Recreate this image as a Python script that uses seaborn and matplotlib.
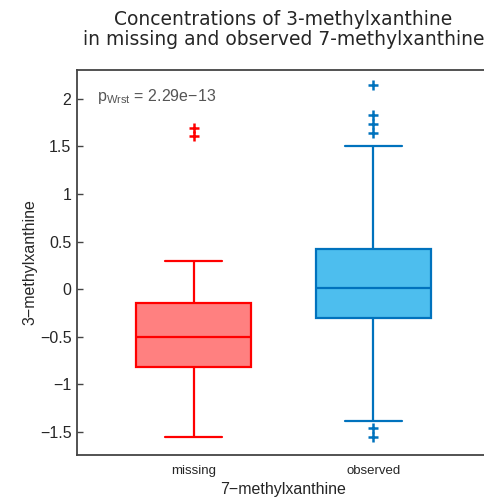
import numpy as np
import pandas as pd
import matplotlib
matplotlib.use('Agg')
import matplotlib.pyplot as plt
import seaborn as sns

# groups of 7-methylxanthine
categories = ['missing', 'observed']

# 3-methylxanthine values (quartiles, whiskers, outliers)
missing_vals = [-1.555, -0.82, -0.82, -0.82, -0.5, -0.5, -0.5,
                -0.15, -0.15, -0.15, 0.3, 1.61, 1.69]
observed_vals = [-1.556, -1.46, -1.383,
                 -0.306, -0.306, -0.306, -0.306, -0.306,
                 0.01, 0.01, 0.01, 0.01, 0.01,
                 0.42, 0.42, 0.42,
                 1.5, 1.64, 1.735, 1.83, 2.14]

yticks = [-1.5, -1, -0.5, 0, 0.5, 1, 1.5, 2]
ytick_labels = ['\u22121.5', '\u22121', '\u22120.5', '0', '0.5', '1', '1.5', '2']
p_text = 'p$_{\\mathregular{Wrst}}$ = 2.29e\u221213'

face_colors = {'missing': '#FF8080', 'observed': '#4DBEEE'}
edge_colors = {'missing': '#FF0000', 'observed': '#0072BD'}

df = pd.DataFrame({
    'group': ['missing'] * len(missing_vals) + ['observed'] * len(observed_vals),
    'value': missing_vals + observed_vals,
})

sns.set_style('white')
plt.rcParams['font.family'] = ['Liberation Sans', 'DejaVu Sans']
plt.rcParams['mathtext.fontset'] = 'custom'
plt.rcParams['mathtext.rm'] = 'Liberation Sans'
plt.rcParams['mathtext.it'] = 'Liberation Sans'

fig = plt.figure(figsize=(4.84, 4.98), dpi=100)
ax = fig.add_axes([77 / 484, 1 - 455 / 498, (490 - 77) / 484, (455 - 70) / 498])

for cat in categories:
    sub = df[df['group'] == cat]
    sns.boxplot(data=sub, x='group', y='value', order=categories, ax=ax,
                color=face_colors[cat], linecolor=edge_colors[cat],
                saturation=1, width=0.64, linewidth=1.6,
                flierprops=dict(marker='+', markersize=7, markeredgewidth=1.8,
                                markeredgecolor=edge_colors[cat]))

ax.set_xlim(-0.65, 1.65)
ax.set_ylim(-1.74, 2.3)
ax.set_yticks(yticks)
ax.set_yticklabels(ytick_labels)
ax.tick_params(axis='y', left=True, right=True, direction='in', length=4,
               width=1, color='#444444', labelsize=11.5, pad=4)
ax.tick_params(axis='x', bottom=False, labelsize=9.5, pad=4)

for s in ax.spines.values():
    s.set_color('#444444')
    s.set_linewidth(1.3)

ax.set_xlabel('7\u2212methylxanthine', fontsize=11.5, labelpad=3)
ax.set_ylabel('3\u2212methylxanthine', fontsize=11.5, labelpad=2)
ax.set_title('Concentrations of 3-methylxanthine\nin missing and observed 7-methylxanthine',
             fontsize=13.5, family='DejaVu Sans', pad=18, linespacing=1.05)

ax.text(0.048, 0.955, p_text, transform=ax.transAxes, fontsize=11.5,
        color='#555555', va='top', ha='left')

fig.savefig('out.png', dpi=100)
